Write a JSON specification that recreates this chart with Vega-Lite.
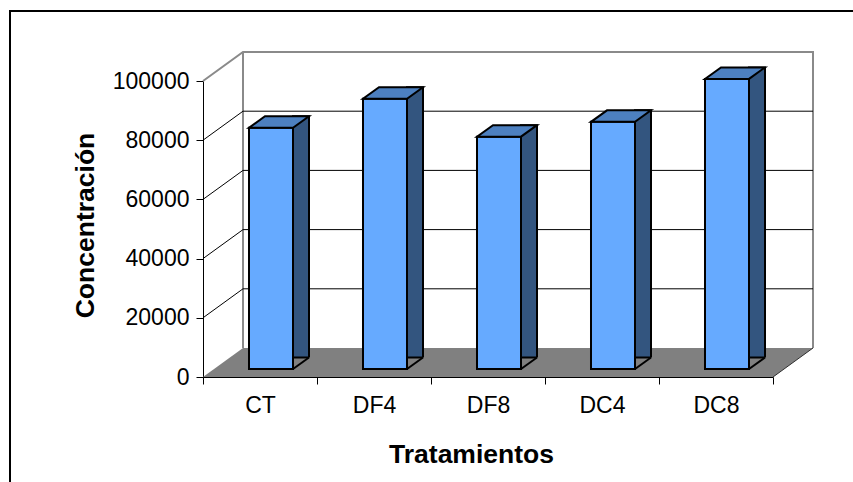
{
  "$schema": "https://vega.github.io/schema/vega-lite/v6.json",
  "width": 570,
  "height": 296,
  "autosize": {"type": "none"},
  "padding": {"left": 203, "top": 81, "right": 80, "bottom": 105},
  "background": "white",
  "datasets": {
    "tratamientos": [
      {"tratamiento": "CT", "concentracion": 81500},
      {"tratamiento": "DF4", "concentracion": 91300},
      {"tratamiento": "DF8", "concentracion": 78500},
      {"tratamiento": "DC4", "concentracion": 83500},
      {"tratamiento": "DC8", "concentracion": 98000}
    ],
    "marcas": [
      {"nivel": 20000},
      {"nivel": 40000},
      {"nivel": 60000},
      {"nivel": 80000}
    ],
    "ancla": [{"pieza": "marco"}]
  },
  "data": {"name": "tratamientos"},
  "config": {
    "view": {"stroke": null},
    "font": "Liberation Sans",
    "scale": {"bandPaddingInner": 0, "bandPaddingOuter": 0},
    "axis": {
      "grid": false,
      "domainColor": "black",
      "domainWidth": 1,
      "tickColor": "black",
      "tickWidth": 1,
      "tickSize": 7,
      "labelColor": "black",
      "labelFont": "Liberation Sans",
      "labelFontSize": 23,
      "titleColor": "black",
      "titleFont": "Liberation Sans",
      "titleFontSize": 26.5,
      "titleFontWeight": "bold"
    },
    "axisX": {
      "tickBand": "extent",
      "labelAngle": 0,
      "labelPadding": 10,
      "titleX": 268,
      "titleY": 85,
      "titleBaseline": "alphabetic"
    },
    "axisY": {
      "tickCount": 5,
      "format": "d",
      "labelPadding": 7,
      "titleX": -110,
      "titleY": 144,
      "titleAngle": 270,
      "titleBaseline": "alphabetic"
    }
  },
  "layer": [
    {
      "data": {"name": "ancla"},
      "mark": {"type": "point", "shape": "M-250 105 L-250 -366 L593 -366", "size": 4, "filled": false, "fill": null, "stroke": "black", "strokeWidth": 2, "opacity": 1},
      "encoding": {
        "x": {"datum": "CT", "type": "nominal", "scale": {"domain": ["CT", "DF4", "DF8", "DC4", "DC8"]}, "title": "Tratamientos"},
        "y": {"datum": 0, "type": "quantitative", "scale": {"domain": [0, 100000], "nice": false}, "title": "Concentración"}
      }
    },
    {
      "data": {"name": "ancla"},
      "mark": {"type": "point", "shape": "M-57 -296 L-17 -325 L553 -325 L553 -29 M-17 -325 L-17 -29", "size": 4, "filled": false, "fill": null, "stroke": "#8a8a8a", "strokeWidth": 2, "opacity": 1},
      "encoding": {
        "x": {"datum": "CT", "type": "nominal", "scale": {"domain": ["CT", "DF4", "DF8", "DC4", "DC8"]}, "title": "Tratamientos"},
        "y": {"datum": 0, "type": "quantitative", "scale": {"domain": [0, 100000], "nice": false}, "title": "Concentración"}
      }
    },
    {
      "data": {"name": "marcas"},
      "mark": {"type": "point", "shape": "M-57 0 L-17 -29 L553 -29", "size": 4, "filled": false, "fill": null, "stroke": "black", "strokeWidth": 1, "opacity": 1},
      "encoding": {
        "x": {"datum": "CT", "type": "nominal", "scale": {"domain": ["CT", "DF4", "DF8", "DC4", "DC8"]}, "title": "Tratamientos"},
        "y": {"field": "nivel", "type": "quantitative", "scale": {"domain": [0, 100000], "nice": false}, "title": "Concentración"}
      }
    },
    {
      "data": {"name": "ancla"},
      "mark": {"type": "point", "shape": "M-57 0 L513 0 L553 -29 L-17 -29 Z", "size": 4, "filled": true, "fill": "#808080", "strokeWidth": 0, "opacity": 1},
      "encoding": {
        "x": {"datum": "CT", "type": "nominal", "scale": {"domain": ["CT", "DF4", "DF8", "DC4", "DC8"]}, "title": "Tratamientos"},
        "y": {"datum": 0, "type": "quantitative", "scale": {"domain": [0, 100000], "nice": false}, "title": "Concentración"}
      }
    },
    {
      "data": {"name": "ancla"},
      "mark": {"type": "point", "shape": "M513 0 L553 -29", "size": 4, "filled": false, "fill": null, "stroke": "#303030", "strokeWidth": 1, "opacity": 1},
      "encoding": {
        "x": {"datum": "CT", "type": "nominal", "scale": {"domain": ["CT", "DF4", "DF8", "DC4", "DC8"]}, "title": "Tratamientos"},
        "y": {"datum": 0, "type": "quantitative", "scale": {"domain": [0, 100000], "nice": false}, "title": "Concentración"}
      }
    },
    {
      "mark": {"type": "bar", "width": {"band": 0.1404}, "xOffset": 41, "yOffset": -19.5, "y2Offset": -8, "fill": "#33557f", "stroke": "black", "strokeWidth": 2},
      "encoding": {
        "x": {"field": "tratamiento", "type": "nominal", "sort": null, "scale": {"domain": ["CT", "DF4", "DF8", "DC4", "DC8"]}, "title": "Tratamientos"},
        "y": {"field": "concentracion", "type": "quantitative", "scale": {"domain": [0, 100000], "nice": false}, "title": "Concentración"}
      }
    },
    {
      "mark": {"type": "point", "shape": "M33 -8 L49 -19.5 L51 -19.5 L51 -6 L32 -6 Z", "size": 4, "filled": true, "fill": "#808080", "strokeWidth": 0, "opacity": 1},
      "encoding": {
        "x": {"field": "tratamiento", "type": "nominal", "sort": null, "scale": {"domain": ["CT", "DF4", "DF8", "DC4", "DC8"]}, "title": "Tratamientos"},
        "y": {"datum": 0, "type": "quantitative", "scale": {"domain": [0, 100000], "nice": false}, "title": "Concentración"}
      }
    },
    {
      "mark": {"type": "point", "shape": "M33 -8 L49 -19.5", "size": 4, "filled": false, "fill": null, "stroke": "black", "strokeWidth": 2, "opacity": 1},
      "encoding": {
        "x": {"field": "tratamiento", "type": "nominal", "sort": null, "scale": {"domain": ["CT", "DF4", "DF8", "DC4", "DC8"]}, "title": "Tratamientos"},
        "y": {"datum": 0, "type": "quantitative", "scale": {"domain": [0, 100000], "nice": false}, "title": "Concentración"}
      }
    },
    {
      "mark": {"type": "bar", "width": {"band": 0.386}, "xOffset": 11, "yOffset": -8, "y2Offset": -8, "fill": "#66aaff", "stroke": "black", "strokeWidth": 2},
      "encoding": {
        "x": {"field": "tratamiento", "type": "nominal", "sort": null, "scale": {"domain": ["CT", "DF4", "DF8", "DC4", "DC8"]}, "title": "Tratamientos"},
        "y": {"field": "concentracion", "type": "quantitative", "scale": {"domain": [0, 100000], "nice": false}, "title": "Concentración"}
      }
    },
    {
      "mark": {"type": "point", "shape": "M-11 -8 L33 -8 L49 -19.5 L5 -19.5 Z", "size": 4, "filled": true, "fill": "#4d80c0", "stroke": "black", "strokeWidth": 2, "opacity": 1},
      "encoding": {
        "x": {"field": "tratamiento", "type": "nominal", "sort": null, "scale": {"domain": ["CT", "DF4", "DF8", "DC4", "DC8"]}, "title": "Tratamientos"},
        "y": {"field": "concentracion", "type": "quantitative", "scale": {"domain": [0, 100000], "nice": false}, "title": "Concentración"}
      }
    }
  ]
}
